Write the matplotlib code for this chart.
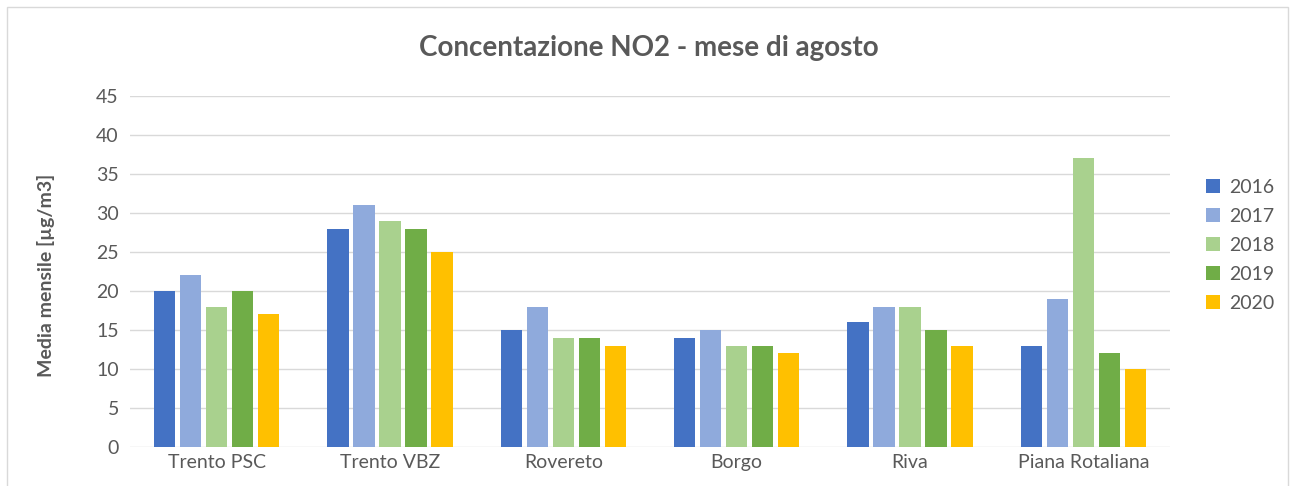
import matplotlib
matplotlib.use("Agg")
import matplotlib.pyplot as plt
import numpy as np
from matplotlib.patches import Rectangle

plt.rcParams['font.family'] = ['Lato', 'DejaVu Sans']

categories = ["Trento PSC", "Trento VBZ", "Rovereto", "Borgo", "Riva", "Piana Rotaliana"]
years = ["2016", "2017", "2018", "2019", "2020"]
v2016 = [20, 28, 15, 14, 16, 13]
v2017 = [22, 31, 18, 15, 18, 19]
v2018 = [18, 29, 14, 13, 18, 37]
v2019 = [20, 28, 14, 13, 15, 12]
v2020 = [17, 25, 13, 12, 13, 10]
series = [v2016, v2017, v2018, v2019, v2020]
colors = ["#4472C4", "#8FAADC", "#A9D18E", "#70AD47", "#FFC000"]

text_color = "#595959"

fig = plt.figure(figsize=(12.9, 4.86), dpi=100)
ax = fig.add_axes([130/1290, 1-447/486, 1040/1290, (447-96)/486])

x = np.arange(len(categories))
step = 0.15
width = 0.122
for i, (vals, c, y) in enumerate(zip(series, colors, years)):
    ax.bar(x + (i - 2) * step, vals, width=width, color=c, label=y, zorder=3)

ax.set_xlim(-0.5, len(categories) - 0.5)
ax.set_ylim(0, 45)
ax.set_yticks(np.arange(0, 46, 5))
ax.set_xticks(x)
ax.set_xticklabels(categories)
ax.tick_params(axis='both', length=0, labelsize=14, colors=text_color)
ax.tick_params(axis='y', pad=8)
ax.tick_params(axis='x', pad=5)
ax.grid(axis='y', color="#D9D9D9", linewidth=1, zorder=0)
for s in ax.spines.values():
    s.set_visible(False)

ax.set_ylabel("Media mensile [µg/m3]", fontsize=14, fontweight='bold', color=text_color)
ax.yaxis.set_label_coords(-0.072, 0.49)
fig.text(649/1290, 1-48/486, "Concentazione NO2 - mese di agosto", ha='center', va='center',
         fontsize=20, fontweight='bold', color=text_color)

leg = ax.legend(loc='center left', bbox_to_anchor=(1.018, 0.575), frameon=False, fontsize=14,
                labelcolor=text_color, handlelength=0.7, handleheight=0.7, handletextpad=0.5,
                labelspacing=0.62)

fig.patches.append(Rectangle((7/1290, -0.1), (1288-7)/1290, 1.1 - 7/486, transform=fig.transFigure,
                             fill=False, edgecolor="#D9D9D9", linewidth=1))

fig.savefig("out.png", dpi=100)
